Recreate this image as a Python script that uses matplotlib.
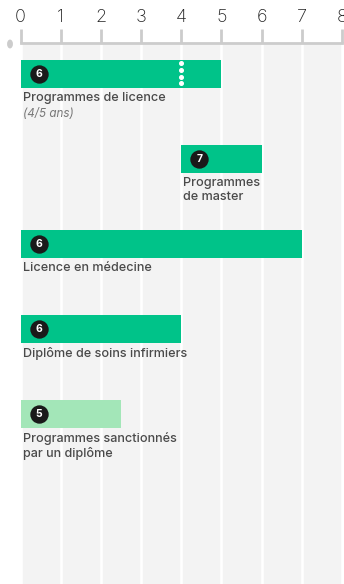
import matplotlib
matplotlib.use("Agg")
import matplotlib.pyplot as plt
import numpy as np

labels = ["Programmes de licence", "Programmes\nde master", "Licence en médecine",
          "Diplôme de soins infirmiers", "Programmes sanctionnés\npar un diplôme"]
sublabels = ["(4/5 ans)", "", "", "", ""]
starts = [0, 4, 0, 0, 0]
ends = [5, 6, 7, 4, 2.5]
badges = [6, 7, 6, 6, 5]
colors = ["#00c389", "#00c389", "#00c389", "#00c389", "#a3e6b8"]
ticks = [0, 1, 2, 3, 4, 5, 6, 7, 8]
divider = 4  # dotted marker on first bar

plt.rcParams['font.family'] = ['Inter', 'DejaVu Sans']

W, H = 344, 584
fig = plt.figure(figsize=(W/100, H/100), dpi=100)
left = 20.5 / W
right = 342 / W
top = 43 / H
ax = fig.add_axes([left, 0, right - left, 1 - top])
ax.set_facecolor("#f3f3f3")

rows = np.arange(len(labels))
ax.set_xlim(0, 8)
ax.set_ylim(6.0, -0.365)

for t in ticks:
    ax.axvline(t, color="white", lw=1.9, zorder=1)

widths = [e - s for s, e in zip(starts, ends)]
ax.barh(rows, widths, left=starts, height=0.32, color=colors, zorder=2)

# dotted divider on first bar
ax.plot([divider]*4, [-0.13, -0.05, 0.03, 0.11], linestyle="none", marker="o",
        markersize=2.6, color="white", zorder=3)

for i in rows:
    cx = starts[i] + 0.45
    ax.scatter([cx], [i], s=175, color="#1a1a1a", zorder=4, linewidths=0)
    ax.text(cx, i + 0.005, str(badges[i]), color="white", fontsize=7.5,
            fontweight="bold", ha="center", va="center", zorder=5)
    ax.text(starts[i] + 0.05, i + 0.215, labels[i], color="#4a4a4a", fontsize=9.1,
            fontweight="medium", ha="left", va="top", linespacing=1.15, zorder=5)
    if sublabels[i]:
        ax.text(starts[i] + 0.05, i + 0.40, sublabels[i], color="#777777",
                fontsize=8.4, style="italic", ha="left", va="top", zorder=5)

ax.xaxis.tick_top()
ax.set_xticks(ticks)
ax.set_xticklabels([str(t) for t in ticks])
ax.tick_params(axis="x", direction="out", length=10, width=2, color="#cccccc",
               labelsize=13, labelcolor="#222222", pad=2)
for lab in ax.get_xticklabels():
    lab.set_fontweight("light")
ax.set_yticks([])
for s in ["left", "right", "bottom"]:
    ax.spines[s].set_visible(False)
ax.spines["top"].set_color("#cccccc")
ax.spines["top"].set_linewidth(2)

fig.patches.append(matplotlib.patches.Circle((10/W, 1 - 44/H), 2.2/W,
                   transform=fig.transFigure, color="#cccccc"))

fig.savefig("out.png", dpi=100)
